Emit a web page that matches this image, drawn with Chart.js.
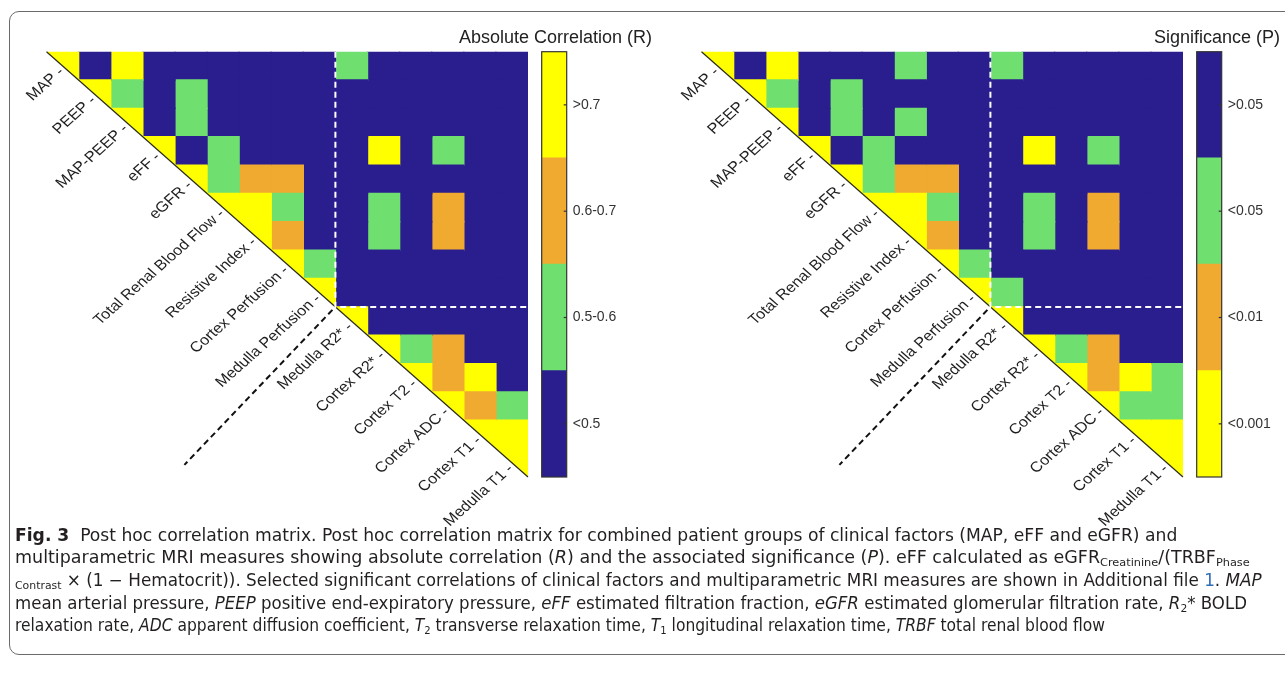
<!DOCTYPE html>
<html>
<head>
<meta charset="utf-8">
<script src="https://cdn.jsdelivr.net/npm/chart.js@4.4.1/dist/chart.umd.min.js"></script>
<style>
html, body { margin: 0; padding: 0; background: #fff; width: 1285px; height: 676px; overflow: hidden; }
#frame { position: absolute; left: 9px; top: 11px; width: 1300px; height: 644px; border: 1.5px solid #6a6a6a; border-radius: 10px; box-sizing: border-box; }
canvas { position: absolute; top: 0; }
.ttl { position: absolute; top: 26px; font-family: "Liberation Sans", Arial, sans-serif; font-size: 18px; line-height: 22px; color: #222; white-space: nowrap; }
.cap { position: absolute; left: 15px; font-family: "Liberation Sans Narrow", "DejaVu Sans Condensed", "Liberation Sans", sans-serif; font-size: 17px; line-height: 20px; color: #231f20; white-space: nowrap; transform-origin: left center; }
.cap sub { font-size: 11px; vertical-align: -3px; line-height: 0; }
.cap .lnk { color: #2f6db5; }
</style>
</head>
<body>
<div id="frame"></div>
<canvas id="mR" width="660" height="540" style="left:0px"></canvas>
<canvas id="cR" width="100" height="540" style="left:530px"></canvas>
<canvas id="mP" width="660" height="540" style="left:655.2px"></canvas>
<canvas id="cP" width="100" height="540" style="left:1185.2px"></canvas>
<div class="ttl" style="right:633px">Absolute Correlation (R)</div>
<div class="ttl" style="right:5px">Significance (P)</div>

<div class="cap" data-w="1162" style="top:525px"><b>Fig. 3</b>&nbsp; Post hoc correlation matrix. Post hoc correlation matrix for combined patient groups of clinical factors (MAP, eFF and eGFR) and</div>
<div class="cap" data-w="1235" style="top:547px">multiparametric MRI measures showing absolute correlation (<i>R</i>) and the associated significance (<i>P</i>). eFF calculated as eGFR<sub>Creatinine</sub>/(TRBF<sub>Phase</sub></div>
<div class="cap" data-w="1247" style="top:570px"><sub>Contrast</sub> × (1 − Hematocrit)). Selected significant correlations of clinical factors and multiparametric MRI measures are shown in Additional file <span class="lnk">1</span>. <i>MAP</i></div>
<div class="cap" data-w="1232" style="top:593px">mean arterial pressure, <i>PEEP</i> positive end-expiratory pressure, <i>eFF</i> estimated filtration fraction, <i>eGFR</i> estimated glomerular filtration rate, <i>R</i><sub>2</sub>* BOLD</div>
<div class="cap" data-w="1090" style="top:615px">relaxation rate, <i>ADC</i> apparent diffusion coefficient, <i>T</i><sub>2</sub> transverse relaxation time, <i>T</i><sub>1</sub> longitudinal relaxation time, <i>TRBF</i> total renal blood flow</div>

<script>
const labels = ['MAP', 'PEEP', 'MAP-PEEP', 'eFF', 'eGFR', 'Total Renal Blood Flow', 'Resistive Index',
  'Cortex Perfusion', 'Medulla Perfusion', 'Medulla R2*', 'Cortex R2*', 'Cortex T2', 'Cortex ADC', 'Cortex T1', 'Medulla T1']
const splitAt = 9 // clinical / MRI block

// |R| bins, upper triangle only: row i starts at column i
// 0 = <0.5, 1 = 0.5-0.6, 2 = 0.6-0.7, 3 = >0.7
const rBins = [
  [3, 0, 3, 0, 0, 0, 0, 0, 0, 1, 0, 0, 0, 0, 0],
  [3, 1, 0, 1, 0, 0, 0, 0, 0, 0, 0, 0, 0, 0],
  [3, 0, 1, 0, 0, 0, 0, 0, 0, 0, 0, 0, 0],
  [3, 0, 1, 0, 0, 0, 0, 3, 0, 1, 0, 0],
  [3, 1, 2, 2, 0, 0, 0, 0, 0, 0, 0],
  [3, 3, 1, 0, 0, 1, 0, 2, 0, 0],
  [3, 2, 0, 0, 1, 0, 2, 0, 0],
  [3, 1, 0, 0, 0, 0, 0, 0],
  [3, 0, 0, 0, 0, 0, 0],
  [3, 0, 0, 0, 0, 0],
  [3, 1, 2, 0, 0],
  [3, 2, 3, 0],
  [3, 2, 1],
  [3, 3],
  [3]
]
// P bins, same layout: 0 = >0.05, 1 = <0.05, 2 = <0.01, 3 = <0.001
const pBins = [
  [3, 0, 3, 0, 0, 0, 1, 0, 0, 1, 0, 0, 0, 0, 0],
  [3, 1, 0, 1, 0, 0, 0, 0, 0, 0, 0, 0, 0, 0],
  [3, 0, 1, 0, 1, 0, 0, 0, 0, 0, 0, 0, 0],
  [3, 0, 1, 0, 0, 0, 0, 3, 0, 1, 0, 0],
  [3, 1, 2, 2, 0, 0, 0, 0, 0, 0, 0],
  [3, 3, 1, 0, 0, 1, 0, 2, 0, 0],
  [3, 2, 0, 0, 1, 0, 2, 0, 0],
  [3, 1, 0, 0, 0, 0, 0, 0],
  [3, 1, 0, 0, 0, 0, 0],
  [3, 0, 0, 0, 0, 0],
  [3, 1, 2, 0, 0],
  [3, 2, 3, 1],
  [3, 1, 1],
  [3, 3],
  [3]
]
const rNames = ['<0.5', '0.5-0.6', '0.6-0.7', '>0.7']
const pNames = ['>0.05', '<0.05', '<0.01', '<0.001']
const binColors = ['#2a1e8e', '#6fe070', '#f0aa30', '#ffff00']

const FONT = '"Liberation Sans", Arial, sans-serif'
const PAD = { left: 46.5, top: 51.7, right: 132, bottom: 63 }

// white lower half, diagonal, dashed block and rotated row labels
const triangle = {
    id: 'triangle',
    afterDatasetsDraw(chart) {
        const { ctx, chartArea: a } = chart
        const x = chart.scales.x, y = chart.scales.y
        ctx.save()
        ctx.fillStyle = '#fff'
        ctx.beginPath()
        ctx.moveTo(a.left, a.top)
        ctx.lineTo(a.right, a.bottom)
        ctx.lineTo(a.right + 2, a.bottom + 4)
        ctx.lineTo(a.left - 4, a.bottom + 4)
        ctx.lineTo(a.left - 4, a.top - 2)
        ctx.closePath()
        ctx.fill()
        ctx.strokeStyle = '#2b2b1a'
        ctx.lineWidth = 1.2
        ctx.beginPath()
        ctx.moveTo(a.left, a.top)
        ctx.lineTo(a.right, a.bottom)
        ctx.stroke()

        const xs = x.getPixelForValue(splitAt)
        const yb = (y.getPixelForValue(splitAt - 1) + y.getPixelForValue(splitAt)) / 2
        ctx.setLineDash([6, 4])
        ctx.lineWidth = 2
        ctx.strokeStyle = '#fff'
        ctx.beginPath()
        ctx.moveTo(xs, a.top)
        ctx.lineTo(xs, yb)
        ctx.lineTo(a.right, yb)
        ctx.stroke()
        // black separator between the label groups
        ctx.strokeStyle = '#111'
        ctx.beginPath()
        ctx.moveTo(xs - 3, yb + 3)
        ctx.lineTo(xs - 3 - 148, yb + 3 + 155)
        ctx.stroke()
        ctx.setLineDash([])

        ctx.fillStyle = '#1e1e1e'
        ctx.font = '14.5px ' + FONT
        ctx.textAlign = 'right'
        ctx.textBaseline = 'middle'
        labels.forEach((lab, i) => {
            const xd = x.getPixelForValue(i + 0.5)
            const yc = y.getPixelForValue(i)
            ctx.save()
            ctx.translate(xd - 1, yc + 4)
            ctx.scale(1.13, 1)
            ctx.rotate(-Math.PI / 4)
            ctx.fillText(lab + ' -', 0, 0)
            ctx.restore()
        })
        ctx.restore()
    }
}

function matrixChart(id, bins) {
    const n = labels.length
    const datasets = []
    for (let j = 0; j < n; j++) {
        datasets.push({
            data: labels.map((_, i) => i <= j ? [j, j + 1] : null),
            backgroundColor: labels.map((_, i) => i <= j ? binColors[bins[i][j - i]] : 'transparent'),
            grouped: false,
            barPercentage: 1,
            categoryPercentage: 1,
            borderWidth: 0,
            inflateAmount: 0.7
        })
    }
    return new Chart(document.getElementById(id), {
        type: 'bar',
        data: { labels: labels, datasets: datasets },
        options: {
            indexAxis: 'y',
            responsive: false,
            animation: false,
            layout: { padding: PAD },
            plugins: { legend: { display: false }, tooltip: { enabled: false } },
            scales: {
                x: { type: 'linear', min: 0, max: n, display: false },
                y: { display: false }
            }
        },
        plugins: [triangle]
    })
}

// colorbar outline and small inner ticks
const barFrame = {
    id: 'barFrame',
    afterDatasetsDraw(chart) {
        const { ctx, chartArea: a } = chart
        const y = chart.scales.y
        ctx.save()
        ctx.strokeStyle = '#333'
        ctx.lineWidth = 1.2
        ctx.strokeRect(a.left, a.top, a.right - a.left, a.bottom - a.top)
        y.ticks.forEach(t => {
            const py = y.getPixelForValue(t.value)
            ctx.beginPath()
            ctx.moveTo(a.right - 3, py)
            ctx.lineTo(a.right, py)
            ctx.stroke()
        })
        ctx.restore()
    }
}

// order = bins listed from the bottom of the bar to the top
function colorbar(id, names, order) {
    const canvas = document.getElementById(id)
    const datasets = order.map((b, k) => ({
        data: [[k, k + 1]],
        backgroundColor: binColors[b],
        grouped: false,
        barPercentage: 1,
        categoryPercentage: 1,
        borderWidth: 0,
        inflateAmount: 0.5
    }))
    return new Chart(canvas, {
        type: 'bar',
        data: { labels: [''], datasets: datasets },
        options: {
            responsive: false,
            animation: false,
            layout: { padding: { left: 11.7, top: PAD.top, right: 0, bottom: PAD.bottom } },
            plugins: { legend: { display: false }, tooltip: { enabled: false } },
            scales: {
                x: { display: false },
                y: {
                    position: 'right',
                    min: 0,
                    max: order.length,
                    grid: { display: false, drawTicks: false },
                    border: { display: false },
                    afterBuildTicks: s => { s.ticks = order.map((b, k) => ({ value: k + 0.5 })) },
                    afterFit: s => { s.width = canvas.width - 36.7 },
                    ticks: {
                        padding: 6,
                        color: '#333',
                        font: { family: FONT, size: 14 },
                        callback: (v, i) => names[order[i]]
                    }
                }
            }
        },
        plugins: [barFrame]
    })
}

matrixChart('mR', rBins)
colorbar('cR', rNames, [0, 1, 2, 3])
matrixChart('mP', pBins)
colorbar('cP', pNames, [3, 2, 1, 0])

// fit caption lines to the printed widths
document.querySelectorAll('.cap').forEach(el => {
    const w = el.scrollWidth
    el.style.transform = 'scaleX(' + (Number(el.dataset.w) / w) + ')'
})
</script>
</body>
</html>
